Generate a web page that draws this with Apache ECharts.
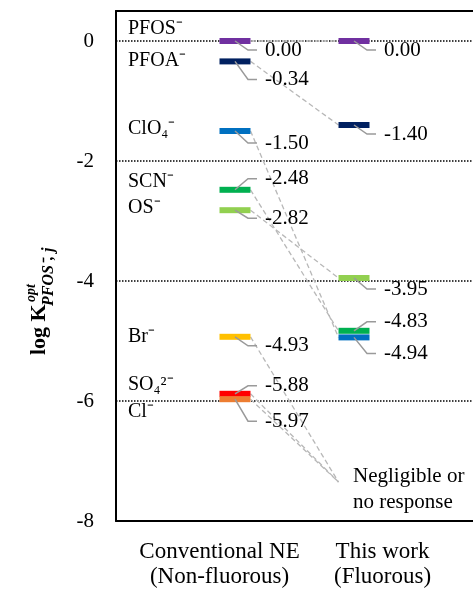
<!DOCTYPE html>
<html>
<head>
<meta charset="utf-8">
<script src="https://cdn.jsdelivr.net/npm/echarts@6.0.0/dist/echarts.min.js"></script>
<style>
  html, body { margin: 0; padding: 0; background: #fff; }
  #chart { width: 473px; height: 593px; }
</style>
</head>
<body>
<div id="chart"></div>
<script>
// ---------- data ----------
const ions = ['PFOS⁻', 'PFOA⁻', 'ClO₄⁻', 'SCN⁻', 'OS⁻', 'Br⁻', 'SO₄²⁻', 'Cl⁻'];
const conventional = [0.00, -0.34, -1.50, -2.48, -2.82, -4.93, -5.88, -5.97];
const thisWork = [0.00, -1.40, -4.94, -4.83, -3.95, null, null, null];
const groups = ['Conventional NE\n(Non-fluorous)', 'This work\n(Fluorous)'];
const negligibleText = 'Negligible or\nno response';
const negligibleLevel = -7.35;

// ---------- layout / style ----------
const FONT = '"Liberation Serif", "Times New Roman", serif';
const colors = ['#7030A0', '#002060', '#0070C0', '#00B050', '#92D050', '#FFC000', '#FF0000', '#ED7D31'];
const GROUP_X = [1, 2];
const BAR_W = 31, BAR_H = 6;
const layout = {
  convLabelDy: [9, 18, 12, -11, 8, 9, -8, 22],
  workLabelDy: [9, 9, 16, -9, 11, 0, 0, 0],
  nameDy: [-12, -1, -2, -8, -2, 0, -9, 13],
  xLabelPos: [0.87, 2.24]
};

function barItem(api, i, v, dy, withName) {
  const p = api.coord([api.value(0), v]);
  const children = [
    { type: 'rect', shape: { x: p[0] - BAR_W / 2, y: p[1] - BAR_H / 2, width: BAR_W, height: BAR_H },
      style: { fill: colors[i] } },
    { type: 'polyline', shape: { points: [[p[0], p[1]], [p[0] + 13, p[1] + dy], [p[0] + 22, p[1] + dy]] },
      style: { stroke: '#9a9a9a', lineWidth: 1.5, fill: null } },
    { type: 'text', x: p[0] + 30, y: p[1] + dy,
      style: { text: v.toFixed(2), fill: '#000', fontSize: 21, fontFamily: FONT, align: 'left', verticalAlign: 'middle' } }
  ];
  if (withName) {
    const left = api.coord([0, v])[0];
    children.push({ type: 'text', x: left + 12, y: p[1] + layout.nameDy[i],
      style: { text: ions[i], fill: '#000', fontSize: 20, fontFamily: FONT, align: 'left', verticalAlign: 'middle' } });
  }
  return { type: 'group', children };
}

const convData = conventional.map((v, i) => [GROUP_X[0], v, i]);
const workData = thisWork.map((v, i) => v === null ? null : [GROUP_X[1], v, i]).filter(d => d);
const linkData = ions.map((_, i) => [conventional[i], thisWork[i] === null ? negligibleLevel : thisWork[i], i]);

const option = {
  backgroundColor: '#fff',
  animation: false,
  grid: { left: 116, top: 11, right: 0, height: 510, show: false },
  xAxis: [{
    type: 'value', min: 0, max: 3.0,
    axisLine: { show: true, onZero: false, lineStyle: { color: '#000', width: 2 } },
    axisTick: { show: false },
    splitLine: { show: false },
    axisLabel: {
      customValues: layout.xLabelPos,
      formatter: (val) => {
        let best = 0;
        layout.xLabelPos.forEach((p, k) => { if (Math.abs(p - val) < Math.abs(layout.xLabelPos[best] - val)) best = k; });
        return groups[best];
      },
      color: '#000', fontSize: 23, lineHeight: 25, fontFamily: FONT, margin: 18
    }
  }, {
    type: 'value', min: 0, max: 3.0, position: 'top',
    axisLine: { show: true, onZero: false, lineStyle: { color: '#000', width: 2 } },
    axisTick: { show: false }, axisLabel: { show: false }, splitLine: { show: false }
  }],
  yAxis: {
    type: 'value', min: -8, max: 0.5, interval: 2,
    axisLine: { show: true, onZero: false, lineStyle: { color: '#000', width: 2 } },
    axisTick: { show: false },
    axisLabel: { color: '#000', fontSize: 21, fontFamily: FONT, margin: 22, showMaxLabel: false,
      formatter: (v) => (Math.abs(v % 2) < 1e-9 ? String(v) : '') },
    splitLine: { show: true, lineStyle: { color: '#000', width: 1.5, type: [1.5, 1.5] } }
  },
  graphic: [{
    type: 'group', x: 39, y: 355, rotation: Math.PI / 2,
    children: [
      { type: 'text', x: 0, y: 0, style: { text: 'log K', fill: '#000', font: 'bold 22px ' + FONT, verticalAlign: 'middle', align: 'left' } },
      { type: 'text', x: 53, y: -8, style: { text: 'opt', fill: '#000', font: 'italic bold 14px ' + FONT, verticalAlign: 'middle', align: 'left' } },
      { type: 'text', x: 49, y: 10, style: { text: 'PFOS⁻, j', fill: '#000', font: 'italic bold 16px ' + FONT, verticalAlign: 'middle', align: 'left' } }
    ]
  }],
  series: [
    {
      type: 'custom', name: 'links', z: 1, silent: true, data: linkData,
      renderItem: (params, api) => {
        const a = api.coord([GROUP_X[0], api.value(0)]);
        const b = api.coord([GROUP_X[1], api.value(1)]);
        return { type: 'line', shape: { x1: a[0] + BAR_W / 2, y1: a[1], x2: b[0] - BAR_W / 2, y2: b[1] },
          style: { stroke: '#b8b8b8', lineWidth: 1.3, lineDash: [5, 3] } };
      }
    },
    {
      type: 'custom', name: 'negligible', z: 2, silent: true, data: [[GROUP_X[1], negligibleLevel]],
      renderItem: (params, api) => {
        const p = api.coord([api.value(0), api.value(1)]);
        return { type: 'text', x: p[0] - 1, y: p[1] - 19,
          style: { text: negligibleText, fill: '#000', fontSize: 21, lineHeight: 26, fontFamily: FONT, align: 'left', verticalAlign: 'top' } };
      }
    },
    {
      type: 'custom', name: 'Conventional NE', z: 3, data: convData,
      renderItem: (params, api) => {
        const i = api.value(2);
        return barItem(api, i, api.value(1), layout.convLabelDy[i], true);
      }
    },
    {
      type: 'custom', name: 'This work', z: 3, data: workData,
      renderItem: (params, api) => {
        const i = api.value(2);
        return barItem(api, i, api.value(1), layout.workLabelDy[i], false);
      }
    }
  ]
};

const chart = echarts.init(document.getElementById('chart'), null, { renderer: 'canvas' });
chart.setOption(option);
</script>
</body>
</html>
